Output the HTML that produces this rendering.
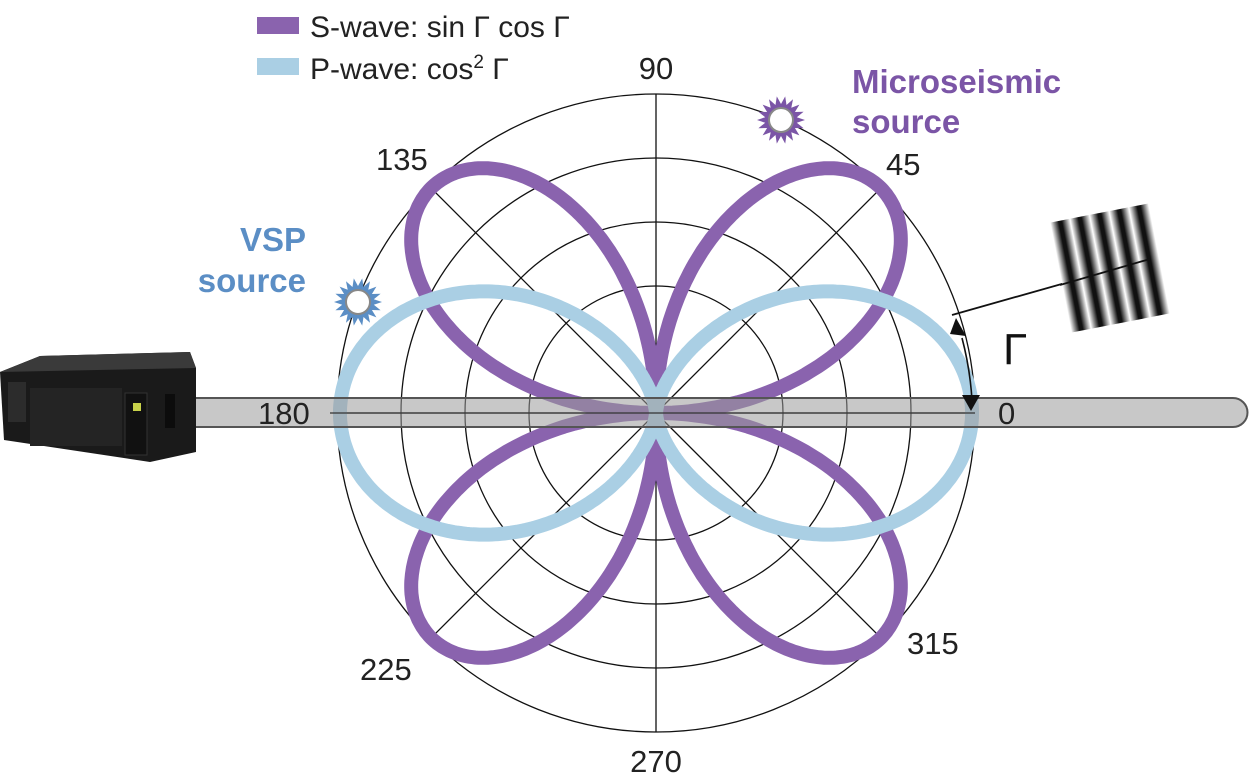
<!DOCTYPE html>
<html><head><meta charset="utf-8"><style>
html,body{margin:0;padding:0;background:#fff}
svg{display:block}
text{font-family:"Liberation Sans",Arial,sans-serif}
</style></head><body>
<svg id="s" width="1254" height="779" viewBox="0 0 1254 779" xmlns="http://www.w3.org/2000/svg">
<defs>
<linearGradient id="st" x1="0" x2="1">
<stop offset="0" stop-color="#fff"/><stop offset="0.42" stop-color="#111"/><stop offset="0.58" stop-color="#111"/><stop offset="1" stop-color="#fff"/>
</linearGradient>
</defs>
<!-- legend -->
<rect x="257" y="17" width="42" height="17" fill="#8a63ae"/>
<text x="310" y="37" font-size="30" fill="#222">S-wave: sin Γ cos Γ</text>
<rect x="257" y="58" width="42" height="17" fill="#aacfe4"/>
<text x="310" y="79" font-size="30" fill="#222">P-wave: cos<tspan font-size="19" dy="-11">2</tspan><tspan dy="11"> Γ</tspan></text>
<!-- grid -->
<g fill="none" stroke="#111" stroke-width="1.3">
<circle cx="656" cy="413" r="127"/>
<circle cx="656" cy="413" r="191"/>
<circle cx="656" cy="413" r="255"/>
<circle cx="656" cy="413" r="319"/>
<g id="spokes"></g>
</g>
<g id="lobes" fill="none" stroke-width="14"></g>
<!-- tube -->
<path d="M180 398 H1233 A14.5 14.5 0 0 1 1233 427 H180 Z" fill="#9a9a9a" fill-opacity="0.55" stroke="#555" stroke-width="2"/>
<line x1="330" y1="413" x2="975" y2="413" stroke="#333" stroke-width="1.3"/>
<!-- labels -->
<g font-size="31" fill="#222">
<text x="656" y="79" text-anchor="middle">90</text>
<text x="886" y="175">45</text>
<text x="376" y="170">135</text>
<text x="258" y="424">180</text>
<text x="998" y="424">0</text>
<text x="360" y="680">225</text>
<text x="907" y="654">315</text>
<text x="656" y="772" text-anchor="middle">270</text>
</g>
<text font-size="33" font-weight="bold" fill="#7b55a6"><tspan x="852" y="93">Microseismic</tspan><tspan x="852" y="133">source</tspan></text>
<text font-size="33" font-weight="bold" fill="#5b8ec5" text-anchor="end"><tspan x="306" y="251">VSP</tspan><tspan x="306" y="292">source</tspan></text>
<!-- suns -->
<g id="suns"></g>
<!-- gamma arrow -->
<line x1="952" y1="315" x2="1150" y2="259" stroke="#111" stroke-width="1.8"/>
<path d="M962 338 A320 320 0 0 1 972 400" fill="none" stroke="#111" stroke-width="1.6"/>
<polygon points="950,334 966,336 956,318" fill="#111"/>
<polygon points="962,395 980,395 971,411" fill="#111"/>
<text x="1003" y="364" font-size="44" fill="#111">Γ</text>
<!-- grating -->
<g transform="translate(1110,268) rotate(-11)">
<rect x="-50" y="-56" width="20" height="112" fill="url(#st)"/>
<rect x="-30" y="-56" width="20" height="112" fill="url(#st)"/>
<rect x="-10" y="-56" width="20" height="112" fill="url(#st)"/>
<rect x="10" y="-56" width="20" height="112" fill="url(#st)"/>
<rect x="30" y="-56" width="20" height="112" fill="url(#st)"/>
</g>
<line x1="1060" y1="285" x2="1150" y2="259" stroke="#111" stroke-width="1.8"/>
<!-- device -->
<g>
<polygon points="40,356 190,352 196,368 196,452 150,462 4,440 0,372" fill="#1a1a1a"/>
<polygon points="40,356 190,352 196,368 0,372" fill="#3a3a3a"/>
<rect x="30" y="388" width="92" height="58" fill="#242424"/>
<rect x="125" y="393" width="22" height="62" fill="#111" stroke="#333"/>
<rect x="133" y="403" width="8" height="8" fill="#c8d24a"/>
<rect x="8" y="382" width="18" height="40" fill="#2c2c2c"/>
<rect x="165" y="394" width="10" height="34" fill="#0c0c0c"/>
</g>
</svg>
<script>
(function(){
var NS="http://www.w3.org/2000/svg",cx=656,cy=413;
var sp=document.getElementById("spokes");
for(var k=0;k<8;k++){var a=k*Math.PI/4;var l=document.createElementNS(NS,"line");
l.setAttribute("x1",cx);l.setAttribute("y1",cy);l.setAttribute("x2",cx+319*Math.cos(a));l.setAttribute("y2",cy-319*Math.sin(a));sp.appendChild(l);}
function curve(f,R,col){var d="";for(var i=0;i<=720;i++){var t=i/720*2*Math.PI;var r=R*f(t);var x=cx+r*Math.cos(t),y=cy-r*Math.sin(t);d+=(i?"L":"M")+x.toFixed(1)+" "+y.toFixed(1);}
var p=document.createElementNS(NS,"path");p.setAttribute("d",d);p.setAttribute("stroke",col);document.getElementById("lobes").appendChild(p);}
curve(function(t){return Math.abs(Math.sin(2*t));},318,"#8a63ae");
curve(function(t){return Math.cos(t)*Math.cos(t);},316,"#aacfe4");
function sun(x,y,col){var g=document.getElementById("suns");var d="";var n=18;for(var i=0;i<2*n;i++){var a=i*Math.PI/n;var r=i%2?16:24;d+=(i?"L":"M")+(x+r*Math.cos(a)).toFixed(1)+" "+(y+r*Math.sin(a)).toFixed(1);}
var p=document.createElementNS(NS,"path");p.setAttribute("d",d+"Z");p.setAttribute("fill",col);g.appendChild(p);
var c=document.createElementNS(NS,"circle");c.setAttribute("cx",x);c.setAttribute("cy",y);c.setAttribute("r",12);c.setAttribute("fill","#fff");c.setAttribute("stroke","#888");c.setAttribute("stroke-width","2");g.appendChild(c);}
sun(781,120,"#7b55a6");sun(358,302,"#5b8ec5");
})();
</script>
</body></html>
